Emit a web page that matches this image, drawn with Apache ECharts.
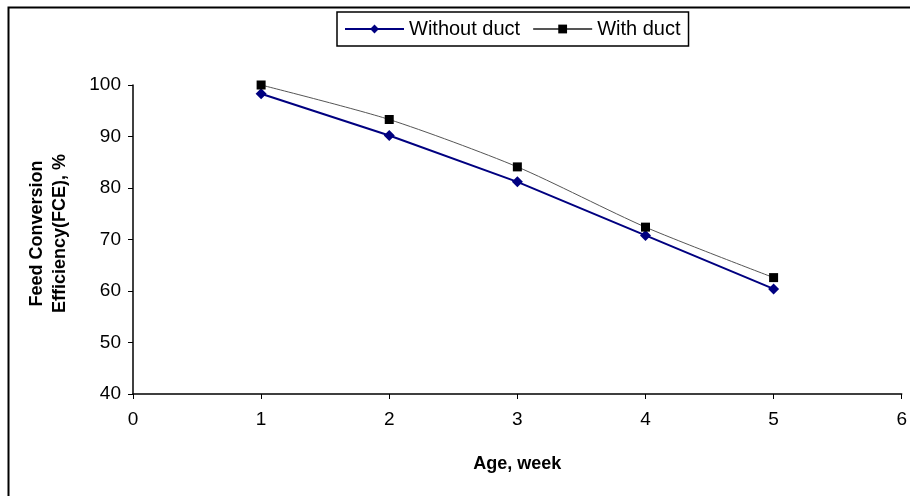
<!DOCTYPE html>
<html><head><meta charset="utf-8">
<script src="https://cdn.jsdelivr.net/npm/echarts@6/dist/echarts.min.js"></script>
<style>html,body{margin:0;padding:0;background:#fff}#c{width:910px;height:496px}</style>
</head><body><div id="c"></div>
<script>
var weeks = [1, 2, 3, 4, 5];
var withoutDuct = [98.3, 90.2, 81.2, 70.8, 60.4];
var withDuct = [100, 93.3, 84.1, 72.4, 62.6];
var seriesNames = ['Without duct', 'With duct'];
var xTicks = [0, 1, 2, 3, 4, 5, 6];
var yTicks = [40, 50, 60, 70, 80, 90, 100];

function pairs(xs, ys){ return xs.map(function(x,i){ return [x, ys[i]]; }); }

var chart = echarts.init(document.getElementById('c'), null, {renderer:'canvas'});
var font = 'Liberation Sans, Arial, sans-serif';
chart.setOption({
  animation: false,
  backgroundColor: '#fff',
  textStyle: {fontFamily: font},
  graphic: [{type:'rect', left: 6, top: 5, shape:{width: 1000, height: 1000}, style:{fill:'none', stroke:'#000', lineWidth: 2}}],
  legend: {
    top: 12, left: 337,
    padding: [7, 8, 7, 7],
    borderColor: '#000', borderWidth: 1.5,
    itemWidth: 59, itemHeight: 11, itemGap: 12,
    textStyle: {fontSize: 20, color: '#000', fontFamily: font},
    data: seriesNames
  },
  grid: {left: 133, right: 7, top: 85, bottom: 102, containLabel: false},
  xAxis: {
    type: 'value', min: xTicks[0], max: xTicks[xTicks.length-1], interval: 1,
    name: 'Age, week', nameLocation: 'middle', nameGap: 61,
    nameTextStyle: {fontSize: 18, fontWeight: 'bold', color: '#000'},
    axisLine: {lineStyle: {color: '#000', width: 1.5}},
    axisTick: {inside: false, length: 5, lineStyle:{color:'#000'}},
    axisLabel: {fontSize: 19, color: '#000', margin: 16},
    splitLine: {show: false}
  },
  yAxis: {
    type: 'value', min: yTicks[0], max: yTicks[yTicks.length-1], interval: 10,
    name: 'Feed Conversion\nEfficiency(FCE), %', nameLocation: 'middle', nameGap: 61,
    nameTextStyle: {fontSize: 18, fontWeight: 'bold', color: '#000', lineHeight: 23, padding: [0, 0, 0, 12]},
    axisLine: {show: true, lineStyle: {color: '#000', width: 1.5}},
    axisTick: {show: true, length: 5, lineStyle:{color:'#000'}},
    axisLabel: {fontSize: 19, color: '#000', margin: 12},
    splitLine: {show: false}
  },
  series: [
    {name: seriesNames[0], type: 'line', data: pairs(weeks, withoutDuct),
     symbol: 'diamond', symbolSize: 11,
     lineStyle: {color: '#000080', width: 2}, itemStyle: {color: '#000080'}},
    {name: seriesNames[1], type: 'line', data: pairs(weeks, withDuct),
     symbol: 'rect', symbolSize: 9, smooth: 0.25,
     lineStyle: {color: '#555', width: 1}, itemStyle: {color: '#000'}}
  ]
});
</script></body></html>
